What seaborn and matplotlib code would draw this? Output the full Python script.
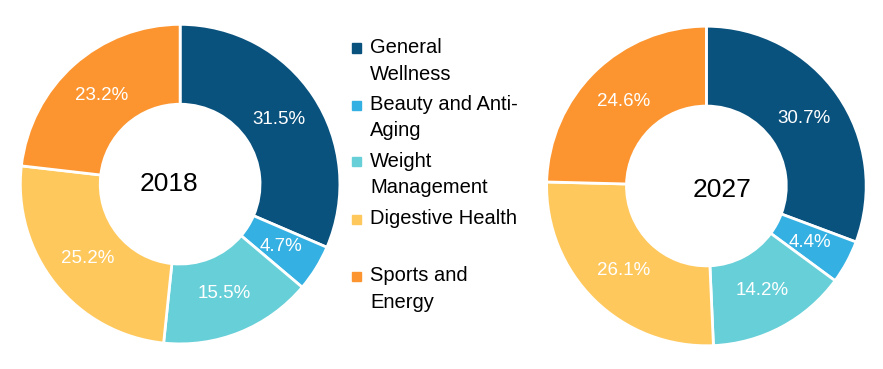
import matplotlib

matplotlib.use("Agg")
import matplotlib.pyplot as plt
from matplotlib.patches import Rectangle
import numpy as np
import seaborn as sns

categories = ["General Wellness", "Beauty and Anti-Aging", "Weight Management",
              "Digestive Health", "Sports and Energy"]
legend_labels = ["General\nWellness", "Beauty and Anti-\nAging", "Weight\nManagement",
                 "Digestive Health", "Sports and\nEnergy"]
share_2018 = [31.5, 4.7, 15.5, 25.2, 23.2]
share_2027 = [30.7, 4.4, 14.2, 26.1, 24.6]
years = ["2018", "2027"]

sns.set_theme(style="white")
plt.rcParams["font.family"] = ["Liberation Sans", "DejaVu Sans"]

colors = ["#0a527e", "#35b0e2", "#66cfd8", "#fec85d", "#fc9530"]

fig = plt.figure(figsize=(8.83, 3.69), dpi=100)
ax_l = fig.add_axes([0.204 - 0.19, 0.501 - 0.455, 0.38, 0.91])
ax_r = fig.add_axes([0.800 - 0.19, 0.496 - 0.455, 0.38, 0.91])

year_offsets = [(-0.07, 0.0), (0.1, -0.025)]

for ax, vals, year, (ox, oy) in zip([ax_l, ax_r], [share_2018, share_2027], years, year_offsets):
    wedges, _ = ax.pie(
        vals,
        colors=colors,
        startangle=90,
        counterclock=False,
        radius=1.0,
        wedgeprops=dict(width=0.5, edgecolor="white", linewidth=2),
    )
    for w, v in zip(wedges, vals):
        ang = np.deg2rad((w.theta1 + w.theta2) / 2)
        ax.text(0.74 * np.cos(ang), 0.74 * np.sin(ang), f"{v:.1f}%",
                ha="center", va="center", color="white", fontsize=13.5)
    ax.text(ox, oy, year, ha="center", va="center", fontsize=19, color="black")
    ax.set_xlim(-1.05, 1.05)
    ax.set_ylim(-1.05, 1.05)
    ax.set_aspect("equal")
    ax.axis("off")

# legend drawn by hand so the swatch sits on the first line of each label
W, H = 883, 369
top_px = 48
step_px = 57
for i, (lab, col) in enumerate(zip(legend_labels, colors)):
    y = 1 - (top_px + i * step_px) / H
    fig.patches.append(Rectangle((352 / W, y - 4.5 / H), 9 / W, 9 / H,
                                 transform=fig.transFigure, color=col))
    fig.text(370 / W, y + 10 / H, lab, ha="left", va="top", fontsize=14.5,
             color="black", linespacing=1.5)

fig.savefig("out.png", dpi=100)
